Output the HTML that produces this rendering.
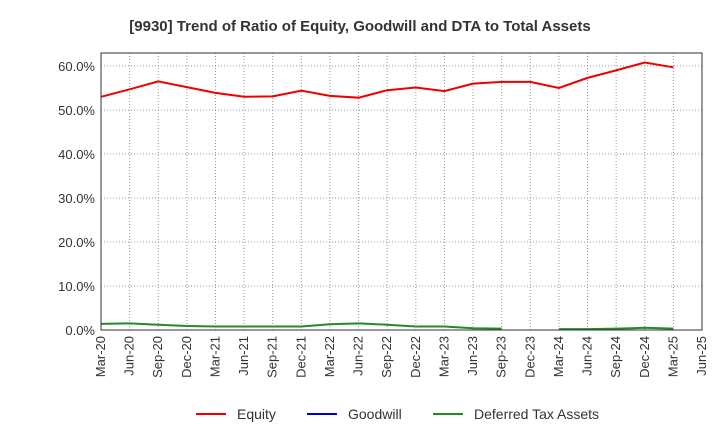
<!DOCTYPE html>
<html><head><meta charset="utf-8"><style>
body{margin:0;background:#fff;font-family:"Liberation Sans",sans-serif}
svg text{font-family:"Liberation Sans",sans-serif}
</style></head><body>
<svg id="c" width="720" height="440">
<text x="360" y="31" text-anchor="middle" font-size="15" font-weight="bold" fill="#333">[9930]  Trend of Ratio of Equity, Goodwill and DTA to Total Assets</text>
<g id="grid"></g><g id="series"></g><g id="axes"></g>
<g>
<line x1="196" y1="414" x2="226" y2="414" stroke="#e00" stroke-width="2"/><text x="237" y="419" font-size="14" fill="#333">Equity</text>
<line x1="307" y1="414" x2="337" y2="414" stroke="#00c" stroke-width="2"/><text x="348" y="419" font-size="14" fill="#333">Goodwill</text>
<line x1="433" y1="414" x2="463" y2="414" stroke="#228b22" stroke-width="2"/><text x="474" y="419" font-size="14" fill="#333">Deferred Tax Assets</text>
</g>
</svg>
<script>
const categories=["Mar-20","Jun-20","Sep-20","Dec-20","Mar-21","Jun-21","Sep-21","Dec-21","Mar-22","Jun-22","Sep-22","Dec-22","Mar-23","Jun-23","Sep-23","Dec-23","Mar-24","Jun-24","Sep-24","Dec-24","Mar-25","Jun-25"];
const equity=[53.0,54.7,56.5,55.2,53.9,53.0,53.1,54.4,53.2,52.8,54.5,55.1,54.3,56.0,56.4,56.4,55.0,57.3,59.0,60.8,59.7];
const goodwill=[];
const dta=[1.4,1.5,1.2,0.9,0.8,0.8,0.8,0.8,1.3,1.5,1.2,0.8,0.8,0.4,0.3,null,0.2,0.2,0.3,0.5,0.3];
const yTicks=[0,10,20,30,40,50,60];
const L=101,R=702,T=53,B=330;
const x=i=>L+i*(R-L)/(categories.length-1);
const y=v=>B-v*(B-66)/60;
const NS="http://www.w3.org/2000/svg";
function mk(p,t,a){const e=document.createElementNS(NS,t);for(const k in a)e.setAttribute(k,a[k]);p.appendChild(e);return e;}
const g=document.getElementById('grid'),ax=document.getElementById('axes'),s=document.getElementById('series');
yTicks.forEach(v=>{
 const l=mk(g,'line',{x1:L,x2:R,y1:y(v),y2:y(v),stroke:'#999','stroke-dasharray':'1,2'});
 
 
 const t=mk(ax,'text',{x:L-6,y:y(v)+5,'text-anchor':'end','font-size':13,fill:'#333'});t.textContent=v.toFixed(1)+'%';
 
 
});
categories.forEach((c,i)=>{
 const l=mk(g,'line',{x1:x(i),x2:x(i),y1:T,y2:B,stroke:'#999','stroke-dasharray':'1,2'});
 
 
 const t=mk(ax,'text',{transform:`translate(${x(i)+4},${B+6}) rotate(-90)`,'text-anchor':'end','font-size':13,fill:'#333'});t.textContent=c;
 
 
});
const fr=mk(ax,'rect',{x:L,y:T,width:R-L,height:B-T,fill:'none',stroke:'#333'});


function draw(arr,col,name){
 let d='',pen=false;
 arr.forEach((v,i)=>{if(v==null){pen=false;return;}d+=(pen?'L':'M')+x(i)+','+y(v);pen=true;});
 if(!d)return;
 const p=mk(s,'path',{d:d,fill:'none',stroke:col,'stroke-width':2});
 
 
}
draw(equity,'#e00','equity-line');
draw(goodwill,'#00c','goodwill-line');
draw(dta,'#228b22','dta-line');
</script>
</body></html>
